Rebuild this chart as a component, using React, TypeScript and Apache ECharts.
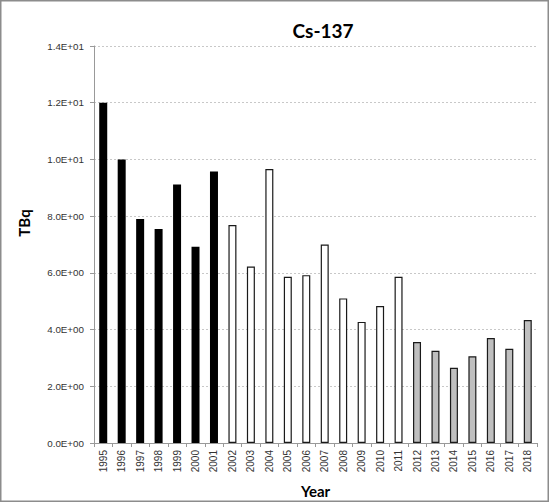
import React, { useEffect, useRef } from "react";
import * as echarts from "echarts";

const years = [
  "1995", "1996", "1997", "1998", "1999", "2000", "2001", "2002", "2003", "2004",
  "2005", "2006", "2007", "2008", "2009", "2010", "2011", "2012", "2013", "2014",
  "2015", "2016", "2017", "2018",
];
const values = [
  12.0, 10.0, 7.9, 7.55, 9.12, 6.92, 9.57, 7.69, 6.22, 9.66,
  5.86, 5.92, 7.0, 5.1, 4.27, 4.83, 5.86, 3.56, 3.25, 2.65,
  3.06, 3.7, 3.32, 4.34,
];
// group of each year: 0 = black, 1 = white, 2 = grey
const groups = [
  0, 0, 0, 0, 0, 0, 0, 1, 1, 1,
  1, 1, 1, 1, 1, 1, 1, 2, 2, 2,
  2, 2, 2, 2,
];
const groupFill = ["#000000", "#ffffff", "#bfbfbf"];
const yTicks = { min: 0, max: 14, interval: 2 };

function sci(v: number): string {
  const s = v.toExponential(1); // e.g. 1.2e+1
  const [m, e] = s.split("e");
  const sign = e[0] === "-" ? "-" : "+";
  const num = Math.abs(parseInt(e, 10));
  return m + "E" + sign + (num < 10 ? "0" + num : String(num));
}

export default function App() {
  const ref = useRef<HTMLDivElement>(null);
  useEffect(() => {
    if (!ref.current) return;
    const chart = echarts.init(ref.current, undefined, { renderer: "svg" });
    const font = "'Liberation Sans', Arial, sans-serif";
    const bold = "Lato, 'Liberation Sans', sans-serif";
    chart.setOption({
      animation: false,
      backgroundColor: "#ffffff",
      grid: { left: 94, right: 13, top: 46, bottom: 59, containLabel: false },
      xAxis: {
        type: "category",
        data: years,
        boundaryGap: true,
        axisLine: { lineStyle: { color: "#999999", width: 1 } },
        axisTick: { show: true, alignWithLabel: false, length: 4, lineStyle: { color: "#999999" } },
        axisLabel: {
          rotate: 90,
          interval: 0,
          margin: 7,
          fontFamily: font,
          fontSize: 10,
          color: "#333333",
        },
        name: "Year",
        nameLocation: "middle",
        nameGap: 40,
        nameTextStyle: { fontFamily: bold, fontWeight: "bold", fontSize: 15, color: "#000", verticalAlign: "top" },
      },
      yAxis: {
        type: "value",
        min: yTicks.min,
        max: yTicks.max,
        interval: yTicks.interval,
        axisLine: { show: true, lineStyle: { color: "#999999", width: 1 } },
        axisTick: { show: true, length: 4, lineStyle: { color: "#999999" } },
        axisLabel: {
          formatter: (v: number) => sci(v),
          fontFamily: font,
          fontSize: 9.8,
          color: "#333333",
          margin: 10,
        },
        splitLine: { show: true, lineStyle: { color: "#c8c8c8", type: [2, 2], width: 1 } },
      },
      series: [
        {
          type: "bar",
          barWidth: 8,
          data: values.map((v, i) => ({
            value: v,
            itemStyle: {
              color: groupFill[groups[i]],
              borderColor: "#1a1a1a",
              borderWidth: groups[i] === 0 ? 0 : 1.2,
            },
          })),
        },
      ],
      graphic: [
        {
          type: "rect",
          shape: { x: 0.75, y: 0.75, width: 547.5, height: 500.5 },
          style: { fill: "none", stroke: "#8c8c8c", lineWidth: 1.5 },
          silent: true,
        },
        {
          type: "text",
          x: 323,
          y: 30,
          style: {
            text: "Cs-137",
            fontFamily: bold,
            fontWeight: "bold",
            fontSize: 19,
            fill: "#000",
            textAlign: "center",
            textVerticalAlign: "middle",
          },
        },
        {
          type: "text",
          x: 24,
          y: 223,
          rotation: Math.PI / 2,
          style: {
            text: "TBq",
            fontFamily: bold,
            fontWeight: "bold",
            fontSize: 15,
            fill: "#000",
            textAlign: "center",
            textVerticalAlign: "middle",
          },
        },
      ],
    });
    return () => chart.dispose();
  }, []);
  return (
    <div
      ref={ref}
      style={{ position: "fixed", left: 0, top: 0, width: 550, height: 503 }}
    />
  );
}
